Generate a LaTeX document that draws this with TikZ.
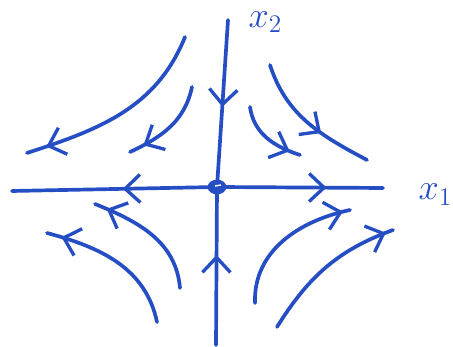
\documentclass[tikz,border=0pt]{standalone}
\usetikzlibrary{arrows.meta,decorations.markings}
\definecolor{pen}{RGB}{38,78,196}
\tikzset{ink/.style={pen,line width=2.1pt,line cap=round,line join=round},
  flow/.style={postaction={decorate},decoration={markings,
    mark=at position #1 with {\arrow[pen,line width=1.9pt]{Straight Barb[length=3mm,width=5.6mm]}}}}}
\begin{document}
\begin{tikzpicture}
\useasboundingbox (0,0) rectangle (9.06,6.94);
\coordinate (O) at (4.34,3.2);
\draw[ink,flow=.46] (O) -- (0.24,3.12);\draw[ink,flow=.66] (O) -- (7.66,3.18);
\draw[ink,flow=.52] (4.56,6.54) -- (O);\draw[ink,flow=.57] (4.32,0.04) -- (O);
\draw[ink,fill=pen] (O) ellipse (.15 and .11);
\draw[white,line width=.8pt] (4.3,3.22) -- (4.42,3.24);
\draw[ink,flow=.9] (3.70,6.2) to[out=-112,in=18] (0.54,3.88);
\draw[ink,flow=.84] (3.84,5.2) to[out=-102,in=25] (2.6,3.9);
\draw[ink,flow=.85] (5.0,4.8) to[out=-82,in=162] (6.0,3.84);
\draw[ink,flow=.62] (5.4,5.64) to[out=-72,in=152] (7.34,3.74);
\draw[ink,flow=.9] (3.6,1.18) to[out=95,in=-22] (1.9,2.86);
\draw[ink,flow=.9] (3.14,0.5) to[out=102,in=-15] (0.94,2.28);
\draw[ink,flow=.95] (5.1,0.88) to[out=92,in=192] (7.0,2.74);
\draw[ink,flow=.95] (5.54,0.4) to[out=58,in=200] (7.86,2.34);
\node[pen,anchor=west,font=\huge] (x2) at (4.85,6.5) {$x_2$};
\node[pen,anchor=west,font=\huge] (x1) at (8.25,3.05) {$x_1$};
\end{tikzpicture}
\end{document}
